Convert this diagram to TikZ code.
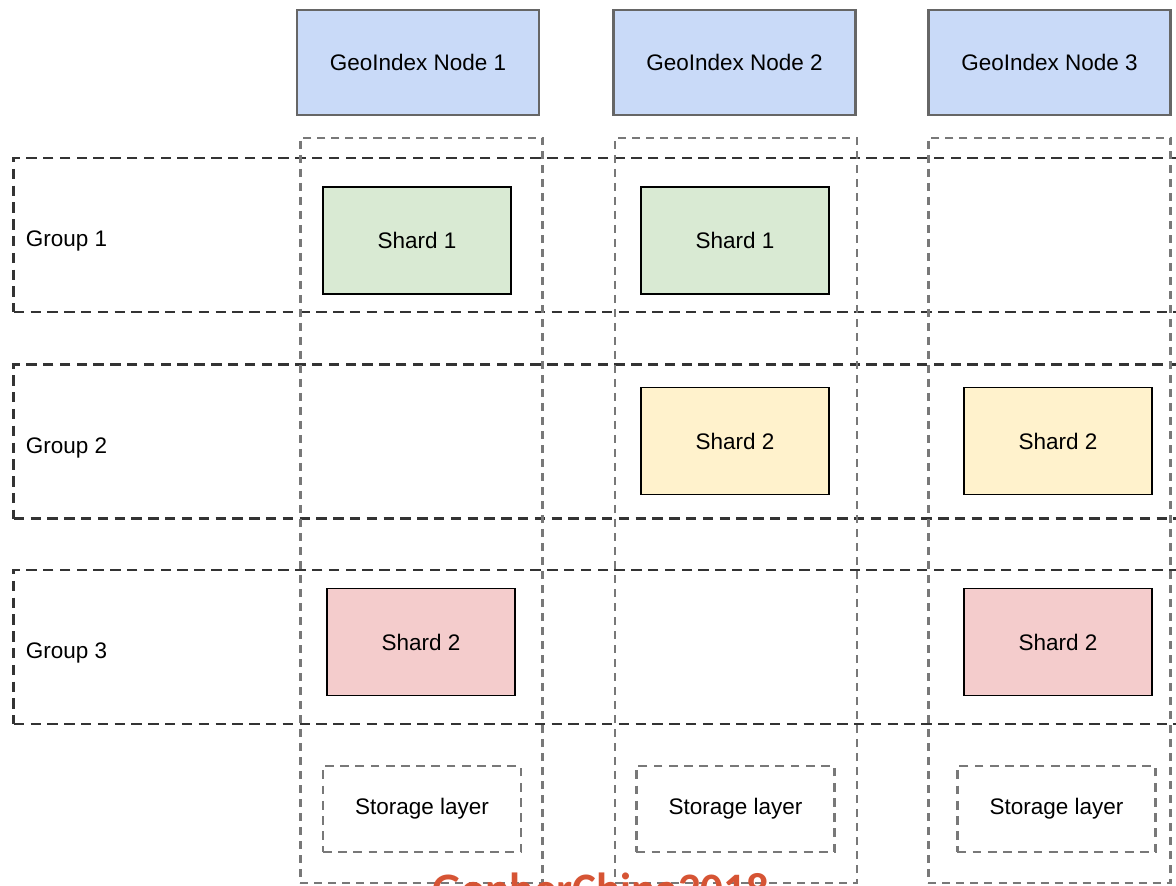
\documentclass[tikz,border=0pt]{standalone}
\usepackage{fontspec}
\setmainfont{Liberation Sans}
\newfontfamily\markfont{Carlito}
\usepackage{tikz}
\usetikzlibrary{positioning}
\usepackage{xcolor}
\definecolor{cBlue}{RGB}{201,218,248}
\definecolor{cGreen}{RGB}{217,234,211}
\definecolor{cYellow}{RGB}{255,242,204}
\definecolor{cRed}{RGB}{244,204,204}
\definecolor{cEdge}{RGB}{102,102,102}
\definecolor{cDash}{RGB}{120,120,120}
\definecolor{cGroup}{RGB}{51,51,51}
\definecolor{cMark}{RGB}{214,84,52}
\tikzset{
  basebox/.style={rectangle, align=center, inner sep=0pt,
                  font=\fontsize{16pt}{19pt}\selectfont},
  geonode/.style={basebox, fill=cBlue, draw=cEdge, line width=1.5pt,
                  minimum width=6.05cm, minimum height=2.625cm},
  shardnode/.style={basebox, draw=black, line width=0.8pt,
                    minimum width=4.7cm, minimum height=2.675cm},
  storenode/.style={basebox, draw=cDash, line width=1.6pt,
                    dash pattern=on 2.2mm off 1.6mm,
                    minimum width=4.95cm, minimum height=2.15cm},
  colbox/.style={rectangle, draw=cDash, line width=1.6pt,
                 dash pattern=on 2mm off 1.5mm,
                 minimum width=6.05cm, minimum height=18.625cm},
  groupbox/.style={rectangle, draw=cGroup, line width=2pt,
                   dash pattern=on 2.6mm off 1.6mm,
                   minimum width=29.65cm, minimum height=3.85cm},
  grouplabel/.style={basebox, anchor=west, yshift=-0.15cm}
}

\begin{document}
\begin{tikzpicture}[x=0.025cm, y=-0.025cm]
  \useasboundingbox (0,0) rectangle (1176,886);
  \clip (0,0) rectangle (1176,886);

  % groups (rows)
  \node[groupbox] (grp1) at (607,235) {};
  \node[groupbox] (grp2) at (607,441.5) {};
  \node[groupbox] (grp3) at (607,647) {};
  \node[grouplabel, right=0.33cm of grp1.west] (lab1) {Group 1};
  \node[grouplabel, right=0.33cm of grp2.west] (lab2) {Group 2};
  \node[grouplabel, right=0.33cm of grp3.west] (lab3) {Group 3};

  % columns
  \node[colbox] (col1) at (421.5,510.5) {};
  \node[colbox] (col2) at (736,510.5) {};
  \node[colbox] (col3) at (1049.5,510.5) {};

  % index nodes
  \node[geonode] (geo1) at (418,62.5) {GeoIndex Node 1};
  \node[geonode] (geo2) at (734.5,62.5) {GeoIndex Node 2};
  \node[geonode] (geo3) at (1049.5,62.5) {GeoIndex Node 3};

  % shards
  \node[shardnode, fill=cGreen] (s11) at (417,240.5) {Shard 1};
  \node[shardnode, fill=cGreen] (s12) at (735,240.5) {Shard 1};
  \node[shardnode, fill=cYellow] (s22) at (735,441) {Shard 2};
  \node[shardnode, fill=cYellow] (s23) at (1058,441) {Shard 2};
  \node[shardnode, fill=cRed] (s31) at (421,642) {Shard 2};
  \node[shardnode, fill=cRed] (s33) at (1058,642) {Shard 2};

  % storage
  \node[storenode] (st1) at (422,809) {Storage layer};
  \node[storenode] (st2) at (735.5,809) {Storage layer};
  \node[storenode] (st3) at (1056.5,809) {Storage layer};

  \node[anchor=base, inner sep=0pt, text=cMark,
        font=\markfont\bfseries\fontsize{32pt}{36pt}\selectfont]
        (mark) at (601,904) {GopherChina2018};
\end{tikzpicture}
\end{document}
